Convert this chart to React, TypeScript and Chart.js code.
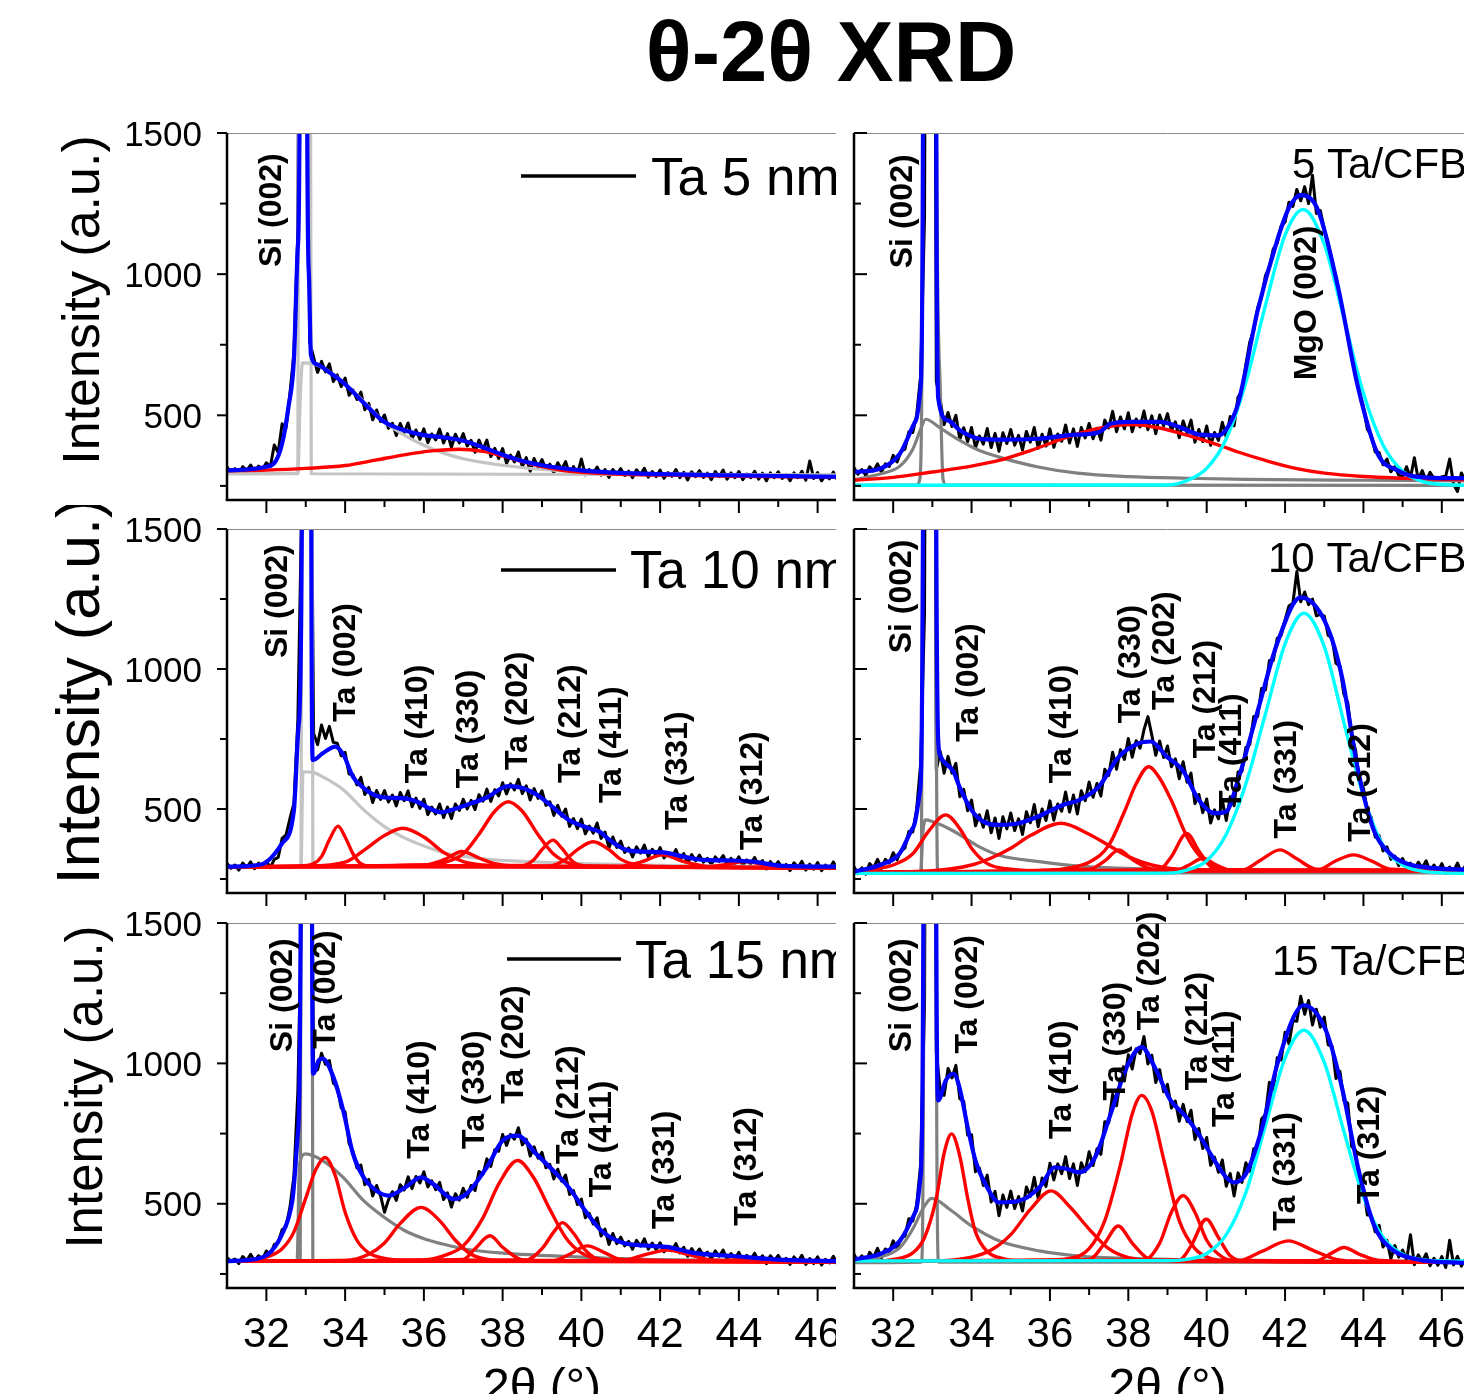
import React, { useEffect, useRef } from "react";
import { Chart, registerables } from "chart.js";

Chart.register(...registerables);

type Pt = [number, number];
type PeakLabel = [string, number, number];

const FONT = '"Liberation Sans", Arial, Helvetica, sans-serif';

// ---------- scan grid (2θ, degrees) ----------
const TWO_THETA: number[] = [
  31.0, 31.1, 31.2, 31.3, 31.4, 31.5, 31.6, 31.7, 31.8, 31.9,
  32.0, 32.1, 32.2, 32.3, 32.4, 32.5, 32.6, 32.7, 32.8, 32.9,
  33.0, 33.1, 33.2, 33.3, 33.4, 33.5, 33.6, 33.7, 33.8, 33.9,
  34.0, 34.1, 34.2, 34.3, 34.4, 34.5, 34.6, 34.7, 34.8, 34.9,
  35.0, 35.1, 35.2, 35.3, 35.4, 35.5, 35.6, 35.7, 35.8, 35.9,
  36.0, 36.1, 36.2, 36.3, 36.4, 36.5, 36.6, 36.7, 36.8, 36.9,
  37.0, 37.1, 37.2, 37.3, 37.4, 37.5, 37.6, 37.7, 37.8, 37.9,
  38.0, 38.1, 38.2, 38.3, 38.4, 38.5, 38.6, 38.7, 38.8, 38.9,
  39.0, 39.1, 39.2, 39.3, 39.4, 39.5, 39.6, 39.7, 39.8, 39.9,
  40.0, 40.1, 40.2, 40.3, 40.4, 40.5, 40.6, 40.7, 40.8, 40.9,
  41.0, 41.1, 41.2, 41.3, 41.4, 41.5, 41.6, 41.7, 41.8, 41.9,
  42.0, 42.1, 42.2, 42.3, 42.4, 42.5, 42.6, 42.7, 42.8, 42.9,
  43.0, 43.1, 43.2, 43.3, 43.4, 43.5, 43.6, 43.7, 43.8, 43.9,
  44.0, 44.1, 44.2, 44.3, 44.4, 44.5, 44.6, 44.7, 44.8, 44.9,
  45.0, 45.1, 45.2, 45.3, 45.4, 45.5, 45.6, 45.7, 45.8, 45.9,
  46.0, 46.1, 46.2, 46.3, 46.4, 46.5, 46.6, 46.7, 46.8, 46.9,
  47.0,
];

// ---------- measured intensities (black) ----------
const TA5_DATA: number[] = [
  317, 299, 311, 294, 318, 304, 324, 301, 320, 308,
  332, 318, 395, 368, 470, 455, 580, 720, 1150, 5000,
  3000, 760, 705, 652, 691, 654, 682, 620, 643, 602,
  632, 571, 590, 556, 582, 520, 542, 484, 519, 478,
  501, 454, 472, 428, 471, 439, 473, 417, 448, 415,
  452, 403, 434, 413, 451, 402, 435, 387, 433, 402,
  435, 391, 411, 369, 412, 379, 412, 354, 383, 347,
  382, 330, 359, 335, 370, 318, 350, 302, 347, 316,
  343, 309, 327, 296, 332, 308, 336, 292, 318, 292,
  345, 289, 308, 294, 317, 288, 308, 280, 308, 290,
  311, 287, 302, 279, 307, 290, 312, 281, 301, 283,
  306, 277, 297, 284, 308, 279, 298, 271, 300, 283,
  304, 280, 295, 272, 301, 283, 306, 274, 296, 279,
  301, 272, 292, 279, 302, 274, 295, 268, 296, 279,
  300, 276, 291, 268, 296, 279, 302, 270, 338, 276,
  297, 268, 288, 275, 299, 271, 292, 265, 293, 276,
  284,
];

const CFB5_DATA: number[] = [
  314, 291, 308, 287, 318, 303, 328, 299, 328, 319,
  358, 335, 373, 380, 442, 439, 502, 640, 1200, 5000,
  5000, 620, 554, 467, 510, 460, 500, 415, 456, 407,
  457, 385, 427, 398, 453, 386, 436, 373, 438, 400,
  450, 394, 429, 377, 443, 405, 457, 383, 433, 391,
  452, 387, 434, 408, 466, 402, 452, 390, 457, 420,
  471, 417, 454, 412, 483, 455, 514, 442, 494, 452,
  509, 442, 487, 459, 515, 449, 498, 435, 501, 463,
  506, 446, 477, 421, 480, 438, 483, 405, 450, 407,
  462, 394, 439, 411, 475, 422, 496, 463, 565, 586,
  680, 760, 800, 880, 920, 995, 1025, 1090, 1110, 1170,
  1185, 1255, 1240, 1300, 1260, 1310, 1250, 1350, 1215, 1225,
  1160, 1110, 1045, 985, 920, 850, 780, 710, 640, 580,
  530, 450, 430, 370, 368, 325, 345, 300, 318, 288,
  282, 318, 278, 350, 272, 304, 268, 298, 276, 276,
  282, 284, 345, 256, 230, 296, 270, 274, 278, 281,
  274,
];

const TA10_DATA: number[] = [
  306, 288, 300, 282, 307, 291, 311, 287, 307, 295,
  314, 290, 320, 327, 395, 408, 467, 520, 820, 1600,
  5000, 2500, 770, 730, 800, 752, 795, 738, 735, 690,
  702, 625, 623, 586, 613, 552, 577, 523, 566, 534,
  566, 525, 550, 511, 559, 530, 565, 508, 539, 502,
  535, 480, 507, 482, 518, 469, 507, 466, 518, 495,
  535, 500, 531, 498, 551, 528, 571, 527, 569, 547,
  594, 554, 590, 568, 606, 555, 583, 532, 573, 538,
  565, 513, 526, 477, 513, 474, 500, 438, 466, 430,
  464, 411, 439, 414, 450, 395, 418, 361, 400, 363,
  385, 345, 361, 329, 365, 342, 371, 329, 356, 332,
  362, 325, 345, 328, 355, 319, 341, 305, 337, 315,
  335, 310, 324, 302, 329, 313, 334, 303, 324, 305,
  329, 299, 318, 304, 327, 298, 316, 286, 312, 293,
  312, 288, 302, 280, 308, 291, 313, 282, 303, 285,
  309, 280, 300, 287, 311, 283, 304, 277, 305, 288,
  292,
];

const CFB10_DATA: number[] = [
  294, 269, 290, 267, 305, 290, 320, 288, 320, 307,
  344, 319, 351, 361, 420, 418, 501, 660, 1200, 5000,
  5000, 640, 706, 628, 688, 628, 663, 544, 570, 494,
  532, 440, 479, 435, 494, 415, 468, 395, 472, 429,
  486, 423, 465, 409, 490, 451, 516, 437, 500, 459,
  529, 460, 518, 492, 561, 489, 550, 482, 565, 530,
  596, 542, 591, 546, 642, 620, 703, 642, 712, 677,
  752, 685, 744, 717, 783, 830, 764, 692, 743, 684,
  725, 651, 679, 608, 669, 596, 628, 519, 552, 487,
  536, 450, 497, 465, 531, 459, 544, 512, 632, 634,
  720, 730, 830, 830, 930, 925, 1030, 1030, 1110, 1120,
  1175, 1225, 1235, 1348, 1240, 1275, 1230, 1250, 1190, 1195,
  1190, 1120, 1110, 1020, 1010, 910, 880, 760, 710, 595,
  575, 490, 470, 400, 405, 350, 365, 320, 332, 298,
  323, 291, 307, 278, 310, 289, 315, 276, 300, 277,
  305, 270, 293, 278, 307, 272, 297, 263, 298, 277,
  282,
];

const TA15_DATA: number[] = [
  308, 296, 303, 287, 312, 297, 320, 296, 315, 302,
  332, 315, 355, 362, 408, 418, 489, 600, 900, 1600,
  5000, 2500, 985, 977, 1036, 997, 1010, 930, 917, 842,
  827, 715, 686, 628, 638, 568, 587, 528, 565, 528,
  470, 514, 543, 512, 568, 549, 596, 554, 597, 574,
  614, 560, 582, 550, 576, 515, 539, 488, 536, 513,
  555, 523, 565, 547, 615, 605, 660, 633, 692, 687,
  747, 708, 747, 730, 771, 710, 730, 670, 703, 662,
  683, 628, 640, 588, 623, 580, 602, 533, 547, 497,
  517, 450, 466, 428, 450, 385, 410, 355, 394, 358,
  381, 350, 366, 338, 370, 349, 375, 338, 360, 336,
  361, 329, 348, 333, 358, 325, 345, 313, 340, 320,
  339, 314, 328, 304, 332, 313, 335, 302, 323, 304,
  327, 297, 316, 302, 324, 295, 315, 287, 315, 297,
  316, 292, 306, 284, 311, 294, 316, 284, 305, 287,
  311, 282, 302, 289, 313, 285, 305, 278, 307, 290,
  294,
];

const CFB15_DATA: number[] = [
  320, 294, 315, 291, 327, 310, 341, 307, 339, 327,
  368, 340, 378, 385, 447, 439, 497, 640, 1200, 5000,
  5000, 1040, 906, 886, 982, 948, 993, 874, 865, 745,
  746, 614, 627, 565, 602, 506, 544, 457, 531, 487,
  545, 483, 526, 474, 560, 526, 594, 519, 592, 562,
  644, 585, 642, 607, 668, 590, 642, 565, 646, 614,
  685, 636, 696, 676, 792, 788, 890, 849, 945, 937,
  1031, 980, 1052, 1035, 1096, 998, 1029, 932, 978, 899,
  925, 841, 866, 794, 854, 793, 833, 729, 768, 697,
  736, 637, 666, 612, 656, 562, 608, 528, 610, 576,
  646, 616, 696, 681, 802, 818, 933, 904, 1020, 1012,
  1111, 1070, 1152, 1150, 1239, 1175, 1224, 1137, 1193, 1129,
  1165, 1066, 1061, 946, 972, 868, 858, 704, 690, 572,
  557, 460, 459, 400, 423, 346, 370, 304, 351, 310,
  335, 300, 390, 283, 318, 294, 322, 279, 306, 281,
  312, 273, 370, 282, 313, 278, 302, 266, 303, 283,
  290,
];

// ---------- fitted curves: Ta 5 nm ----------
const TA5_ENVELOPE: Pt[] = [[31,305],[31.5,308],[32,318],[32.2,330],[32.4,400],[32.56,529],[32.7,700],[32.8,1100],[32.85,1800],[32.94,30000],[33.03,1800],[33.08,1000],[33.13,715],[33.3,680],[33.5,662],[34,610],[34.5,540],[35,476],[35.5,447],[36,430],[36.5,422],[37,410],[37.5,387],[38,360],[38.5,338],[39,323],[40,305],[41,296],[42,292],[43,289],[44,287],[45,285],[46,283],[47,282]];
const TA5_TA: Pt[] = [[31,303],[32,306],[33,312],[34,322],[34.8,342],[35.5,360],[36.2,374],[36.9,380],[37.5,372],[38,356],[38.5,336],[39,318],[39.5,305],[40,298],[41,291],[42,288],[44,284],[47,280]];
const TA5_BROAD: Pt[] = [[31,293],[32.8,295],[32.86,560],[32.92,686],[33.2,682],[33.5,664],[34,612],[34.5,545],[35,476],[35.5,430],[36,394],[36.5,366],[37,346],[37.5,333],[38,323],[39,308],[40,300],[42,293],[44,290],[47,288]];
const TA5_SI: Pt[] = [[31,293],[32.8,293],[32.83,2500],[32.97,30000],[33.11,2500],[33.14,293],[47,288]];

// ---------- fitted curves: 5 Ta/CFB ----------
const CFB5_ENVELOPE: Pt[] = [[31,299],[31.66,311],[32.17,364],[32.58,482],[32.7,600],[32.76,1500],[32.93,30000],[33.1,1500],[33.15,560],[33.4,482],[33.7,447],[34.2,417],[34.7,414],[35.7,417],[36.5,430],[37.25,440],[37.55,470],[38,477],[38.8,477],[39.3,459],[39.8,432],[40.3,429],[40.5,450],[40.8,541],[41.3,870],[41.8,1120],[42.1,1235],[42.4,1280],[42.84,1227],[43.35,955],[43.86,600],[44.36,364],[44.87,305],[45.4,282],[46.5,277],[47,276]];
const CFB5_TA: Pt[] = [[31,270],[32,280],[33,299],[34,320],[34.7,340],[35.5,375],[36.5,425],[37.3,455],[38.06,467],[38.8,455],[39.6,425],[40.4,390],[40.8,370],[41.5,340],[42.3,311],[43,295],[44,283],[45,277],[46,273],[47,271]];
const CFB5_BROAD: Pt[] = [[31,272],[31.66,292],[32.17,320],[32.5,380],[32.7,450],[32.83,486],[33.2,455],[33.7,411],[34.2,375],[34.7,352],[35.7,317],[36.7,295],[38,283],[39.5,277],[41,273],[44,270],[47,268]];
const CFB5_SI: Pt[] = [[31,252],[32.6,253],[32.68,275],[32.73,600],[32.78,2500],[32.93,30000],[33.08,2500],[33.2,600],[33.27,275],[33.35,253],[47,252]];
const CFB5_MGO: Pt[] = [[31,252],[39,253],[39.5,269],[40,312],[40.5,417],[41,617],[41.5,890],[42,1138],[42.46,1229],[43,1106],[43.5,845],[44,578],[44.5,395],[45,302],[45.5,266],[46,255],[47,252]];

// ---------- fitted curves: Ta 10 nm ----------
const TA10_ENVELOPE: Pt[] = [[31,294],[31.87,302],[32.4,377],[32.7,496],[32.82,800],[32.9,1500],[33.03,30000],[33.14,1500],[33.18,675],[33.43,699],[33.75,723],[33.96,693],[34.2,615],[34.48,574],[34.74,550],[35,541],[35.52,538],[35.83,526],[36.14,502],[36.45,488],[36.76,499],[37.08,514],[37.6,541],[38.14,582],[38.53,574],[38.9,548],[39.16,520],[39.68,461],[40.2,431],[40.46,419],[40.72,389],[41.14,354],[41.55,348],[42.07,345],[42.6,330],[43.1,318],[43.84,316],[44.36,312],[45.1,297],[46.44,294],[47,293]];
const TA10_P002: Pt[] = [[31,294],[32.8,296],[33.2,305],[33.4,330],[33.6,390],[33.82,439],[34,400],[34.2,340],[34.4,305],[34.7,296],[47,290]];
const TA10_P410: Pt[] = [[31,294],[33,296],[34,310],[34.5,355],[35,405],[35.46,431],[36,400],[36.5,345],[37,312],[37.5,300],[38.5,295],[47,290]];
const TA10_P330: Pt[] = [[31,294],[36,300],[36.5,318],[36.97,348],[37.4,325],[37.8,305],[38.3,297],[47,290]];
const TA10_P202: Pt[] = [[31,294],[36,300],[36.5,308],[37,340],[37.4,410],[37.8,492],[38.14,526],[38.5,492],[38.9,408],[39.3,338],[39.7,306],[40.2,296],[47,290]];
const TA10_P212: Pt[] = [[31,294],[38.5,298],[38.8,320],[39,355],[39.28,389],[39.5,360],[39.8,310],[40.1,297],[47,290]];
const TA10_P411: Pt[] = [[31,294],[39.2,297],[39.6,320],[39.9,355],[40.3,383],[40.7,355],[41,320],[41.4,300],[42,295],[47,290]];
const TA10_P331: Pt[] = [[31,294],[41,296],[41.5,310],[42.07,336],[42.6,312],[43.1,297],[43.6,293],[47,290]];
const TA10_P312: Pt[] = [[31,294],[43,292],[43.6,300],[44.15,312],[44.7,300],[45.3,291],[47,290]];
const TA10_BROAD: Pt[] = [[31,294],[32.88,296],[32.93,633],[33.2,630],[33.43,615],[33.96,568],[34.48,496],[35,437],[35.52,396],[36.04,366],[36.56,342],[37.08,330],[37.6,320],[38.12,316],[39.16,309],[40.2,304],[42,299],[44,296],[47,295]];
const TA10_SI: Pt[] = [[31,294],[32.88,295],[32.91,2500],[33.03,30000],[33.15,2500],[33.18,295],[47,292]];

// ---------- fitted curves: 10 Ta/CFB ----------
const CFB10_ENVELOPE: Pt[] = [[31,276],[31.66,300],[32.17,342],[32.52,437],[32.68,560],[32.76,1500],[32.93,30000],[33.1,1500],[33.16,720],[33.2,690],[33.54,633],[33.69,580],[34,496],[34.3,455],[34.7,443],[35.2,449],[35.7,473],[36.33,514],[36.74,532],[37.25,580],[37.76,687],[38.27,735],[38.57,741],[38.98,687],[39.38,640],[39.8,532],[40.2,485],[40.5,491],[40.8,604],[41.31,854],[41.8,1092],[42.4,1256],[43.04,1163],[43.45,973],[43.86,640],[44.26,426],[44.67,342],[45.08,306],[45.9,288],[47,282]];
const CFB10_P002: Pt[] = [[31,276],[31.5,285],[32,300],[32.5,340],[32.9,420],[33.34,479],[33.7,430],[34,360],[34.4,305],[35,285],[36,278],[47,280]];
const CFB10_P410: Pt[] = [[31,274],[33,280],[34,300],[34.5,325],[35,360],[35.5,405],[36.28,449],[37,410],[37.5,370],[38,330],[38.6,300],[39.5,283],[47,280]];
const CFB10_P330: Pt[] = [[31,274],[37,285],[37.4,315],[37.76,354],[38.1,320],[38.5,290],[39,280],[47,280]];
const CFB10_P202: Pt[] = [[31,274],[36,282],[36.5,290],[37,310],[37.5,370],[37.9,490],[38.2,590],[38.52,651],[38.8,610],[39.1,530],[39.5,400],[39.9,320],[40.4,285],[41,278],[47,280]];
const CFB10_P212: Pt[] = [[31,274],[38.8,285],[39.1,330],[39.49,413],[39.8,350],[40.1,295],[40.5,280],[47,280]];
const CFB10_P411: Pt[] = [[31,274],[39.2,280],[39.55,300],[39.9,324],[40.25,300],[40.6,282],[47,280]];
const CFB10_P331: Pt[] = [[31,274],[40.9,282],[41.4,320],[41.87,354],[42.3,322],[42.8,285],[47,280]];
const CFB10_P312: Pt[] = [[31,274],[42.8,280],[43.3,315],[43.75,336],[44.2,315],[44.7,285],[47,280]];
const CFB10_BROAD: Pt[] = [[31,272],[32.7,276],[32.76,420],[32.83,461],[33,455],[33.49,425],[34.2,365],[34.7,335],[35.73,312],[36.74,296],[38,288],[40,284],[47,280]];
const CFB10_SI: Pt[] = [[31,270],[32.72,272],[32.78,2500],[32.93,30000],[33.08,2500],[33.14,272],[47,272]];
const CFB10_MGO: Pt[] = [[31,270],[39,271],[39.5,282],[40,315],[40.5,410],[41,590],[41.5,840],[42,1090],[42.48,1199],[43,1080],[43.5,810],[44,545],[44.5,370],[45,300],[45.5,278],[46,272],[47,270]];

// ---------- fitted curves: Ta 15 nm ----------
const TA15_ENVELOPE: Pt[] = [[31,296],[31.87,308],[32.4,392],[32.66,511],[32.8,750],[32.87,1500],[33.02,30000],[33.16,1500],[33.19,963],[33.33,1011],[33.43,1017],[33.7,952],[33.95,833],[34.2,678],[34.47,594],[34.79,547],[35.1,529],[35.52,558],[35.93,594],[36.24,570],[36.76,517],[37.08,535],[37.6,630],[38,725],[38.38,743],[38.85,678],[39.37,606],[39.68,558],[40.1,475],[40.51,404],[41.03,362],[41.76,350],[42.28,344],[42.8,326],[43.84,314],[44.88,302],[46.4,296],[47,295]];
const TA15_P002: Pt[] = [[31,296],[31.5,298],[32,310],[32.4,340],[32.7,400],[33,520],[33.25,620],[33.49,665],[33.75,600],[34,470],[34.3,370],[34.6,325],[35,305],[35.5,298],[36.5,295],[47,293]];
const TA15_P410: Pt[] = [[31,296],[34,298],[34.6,320],[35,360],[35.4,430],[35.93,487],[36.4,440],[36.8,370],[37.2,320],[37.7,300],[38.5,295],[47,293]];
const TA15_P330: Pt[] = [[31,296],[37,302],[37.3,340],[37.68,386],[38,345],[38.4,305],[38.8,296],[47,293]];
const TA15_P202: Pt[] = [[31,296],[36,300],[36.6,320],[37,350],[37.5,450],[37.9,570],[38.38,654],[38.8,590],[39.2,480],[39.6,380],[40,325],[40.5,302],[41.2,296],[47,293]];
const TA15_P212: Pt[] = [[31,296],[38.6,300],[39,340],[39.3,400],[39.52,433],[39.8,395],[40.1,335],[40.5,300],[47,293]];
const TA15_P411: Pt[] = [[31,296],[39.3,298],[39.7,320],[40.15,350],[40.6,325],[41,302],[47,293]];
const TA15_P331: Pt[] = [[31,296],[41,297],[41.6,318],[42.18,335],[42.8,316],[43.3,300],[47,293]];
const TA15_P312: Pt[] = [[31,296],[43.5,295],[44.2,305],[44.9,295],[47,293]];
const TA15_BROAD: Pt[] = [[31,295],[32.78,297],[32.84,640],[33,678],[33.43,654],[33.95,594],[34.47,511],[35,451],[35.52,404],[36.04,374],[36.56,354],[37.08,338],[38.12,323],[39.16,315],[40.7,306],[43,299],[47,296]];
const TA15_SI: Pt[] = [[31,295],[32.86,296],[32.89,2500],[33.02,30000],[33.15,2500],[33.18,296],[47,295]];

// ---------- fitted curves: 15 Ta/CFB ----------
const CFB15_ENVELOPE: Pt[] = [[31,302],[31.66,321],[32.17,368],[32.58,475],[32.7,600],[32.77,1500],[32.94,30000],[33.1,1500],[33.15,868],[33.34,939],[33.54,963],[33.69,915],[33.9,773],[34.1,654],[34.4,558],[34.7,505],[35.2,510],[35.73,558],[36.13,630],[36.44,624],[36.74,612],[37.15,665],[37.55,820],[37.96,987],[38.34,1058],[38.67,987],[39.08,868],[39.44,815],[39.79,749],[40.2,654],[40.5,594],[40.7,576],[41,606],[41.42,773],[41.83,1011],[42.48,1207],[43.04,1118],[43.45,915],[43.86,630],[44.26,427],[44.67,344],[45.38,302],[46.5,290],[47,289]];
const CFB15_P002: Pt[] = [[31,295],[31.5,295],[32,302],[32.5,325],[32.8,380],[33.1,520],[33.3,680],[33.49,749],[33.7,670],[33.9,520],[34.1,400],[34.4,330],[34.8,305],[35.3,296],[47,292]];
const CFB15_P410: Pt[] = [[31,295],[33,296],[34,310],[34.5,335],[35,390],[35.5,480],[36.03,546],[36.5,490],[37,410],[37.5,340],[38,308],[38.8,296],[47,292]];
const CFB15_P330: Pt[] = [[31,295],[37,302],[37.4,360],[37.74,421],[38.1,360],[38.5,305],[38.9,296],[47,292]];
const CFB15_P202: Pt[] = [[31,295],[36,300],[36.5,305],[37,340],[37.4,440],[37.8,640],[38.1,820],[38.34,886],[38.6,830],[38.9,660],[39.3,440],[39.7,340],[40.1,305],[40.6,297],[47,292]];
const CFB15_P212: Pt[] = [[31,295],[38.4,300],[38.8,360],[39.1,470],[39.4,529],[39.7,470],[40,370],[40.4,310],[40.8,297],[47,292]];
const CFB15_P411: Pt[] = [[31,295],[39.3,300],[39.6,350],[39.99,445],[40.3,380],[40.6,315],[41,297],[47,292]];
const CFB15_P331: Pt[] = [[31,295],[40.8,297],[41.4,330],[42.08,368],[42.7,335],[43.3,302],[43.8,296],[47,292]];
const CFB15_P312: Pt[] = [[31,295],[42.8,297],[43.2,325],[43.5,344],[43.9,320],[44.4,298],[47,292]];
const CFB15_BROAD: Pt[] = [[31,294],[31.66,310],[32.17,344],[32.5,410],[32.75,480],[32.98,519],[33.49,475],[34,421],[34.7,368],[35.73,332],[36.74,314],[38.27,305],[40,300],[43,296],[47,294]];
const CFB15_SI: Pt[] = [[31,290],[32.72,292],[32.8,2500],[32.94,30000],[33.08,2500],[33.16,292],[47,292]];
const CFB15_MGO: Pt[] = [[31,296],[39,297],[39.5,302],[40,323],[40.5,390],[41,540],[41.5,779],[42,1019],[42.48,1118],[43,1004],[43.5,758],[44,524],[44.5,381],[45,320],[45.5,301],[46,297],[47,295]];

// ---------- peak annotations [text, 2θ, intensity at text start] ----------
const TA5_PEAKS: PeakLabel[] = [["Si (002)", 32.14, 1025]];
const CFB5_PEAKS: PeakLabel[] = [["Si (002)", 32.25, 1021], ["MgO (002)", 42.56, 624]];
const TA10_PEAKS: PeakLabel[] = [
  ["Si (002)", 32.31, 1039], ["Ta (002)", 34.03, 812], ["Ta (410)", 35.85, 592], ["Ta (330)", 37.15, 574],
  ["Ta (202)", 38.4, 639], ["Ta (212)", 39.75, 593], ["Ta (411)", 40.77, 521], ["Ta (331)", 42.45, 425], ["Ta (312)", 44.36, 354],
];
const CFB10_PEAKS: PeakLabel[] = [
  ["Si (002)", 32.22, 1056], ["Ta (002)", 33.95, 740], ["Ta (410)", 36.3, 592], ["Ta (330)", 38.08, 806],
  ["Ta (202)", 38.95, 854], ["Ta (212)", 39.99, 681], ["Ta (411)", 40.65, 496], ["Ta (331)", 42.05, 395], ["Ta (312)", 43.93, 383],
];
const TA15_PEAKS: PeakLabel[] = [
  ["Si (002)", 32.42, 1040], ["Ta (002)", 33.51, 1052], ["Ta (410)", 35.9, 660], ["Ta (330)", 37.3, 695],
  ["Ta (202)", 38.29, 856], ["Ta (212)", 39.68, 642], ["Ta (411)", 40.53, 523], ["Ta (331)", 42.14, 410], ["Ta (312)", 44.22, 422],
];
const CFB15_PEAKS: PeakLabel[] = [
  ["Si (002)", 32.22, 1040], ["Ta (002)", 33.92, 1035], ["Ta (410)", 36.3, 731], ["Ta (330)", 37.68, 868],
  ["Ta (202)", 38.57, 1118], ["Ta (212)", 39.79, 904], ["Ta (411)", 40.47, 773], ["Ta (331)", 42.03, 404], ["Ta (312)", 44.18, 499],
];

// ---------- axes ----------
const X_MAJOR: number[] = [32, 34, 36, 38, 40, 42, 44, 46];
const X_MINOR: number[] = [33, 35, 37, 39, 41, 43, 45, 47];
const Y_MAJOR: number[] = [500, 1000, 1500];
const Y_MINOR: number[] = [250, 750, 1250];
const X_MIN = 31, X_MAX = 47, Y_MIN = 200, Y_MAX = 1500;

const TITLE = "θ-2θ XRD";
const Y_TITLE = "Intensity (a.u.)";
const X_TITLE = "2θ (°)";

// ---------- colours ----------
const C_DATA = "#000000";
const C_ENV = "#0000ff";
const C_TA = "#ff0000";
const C_MGO = "#00ffff";
const C_LIGHTGRAY = "#c4c4c4";
const C_GRAY = "#808080";

// ---------- layout ----------
const ROWS = [
  { top: 100, height: 420, padTop: 33, padBottom: 20, yt: { dx: -142, dy: 167, size: 52 }, legend: { x1: 294, x2: 409, y: 43, tx: 424, ty: 62 }, sample: { dx: 438, dy: 45 } },
  { top: 505, height: 410, padTop: 24, padBottom: 22, yt: { dx: -144.5, dy: 162, size: 61 }, legend: { x1: 274, x2: 389, y: 41, tx: 403, ty: 59 }, sample: { dx: 414, dy: 43 } },
  { top: 900, height: 494, padTop: 23, padBottom: 106, yt: { dx: -139.5, dy: 164, size: 51 }, legend: { x1: 280, x2: 394, y: 36, tx: 408, ty: 55 }, sample: { dx: 418, dy: 52 } },
];
const SIDES = {
  left: { divLeft: 0, divWidth: 836, canvasWidth: 900, padLeft: 227, padRight: 43 },
  right: { divLeft: 836, divWidth: 628, canvasWidth: 680, padLeft: 18, padRight: 35 },
};

interface PanelSpec {
  id: string;
  side: "left" | "right";
  row: number;
  data: number[];
  envelope: Pt[];
  ta: Pt[][];
  gray: Pt[][];
  grayColor: string;
  mgoCurve?: Pt[];
  peaks: PeakLabel[];
  label: string;
}

const PANELS: PanelSpec[] = [
  { id: "ta5", side: "left", row: 0, data: TA5_DATA, envelope: TA5_ENVELOPE, ta: [TA5_TA], gray: [TA5_BROAD, TA5_SI], grayColor: C_LIGHTGRAY, peaks: TA5_PEAKS, label: "Ta 5 nm" },
  { id: "ta10", side: "left", row: 1, data: TA10_DATA, envelope: TA10_ENVELOPE, ta: [TA10_P002, TA10_P410, TA10_P330, TA10_P202, TA10_P212, TA10_P411, TA10_P331, TA10_P312], gray: [TA10_BROAD, TA10_SI], grayColor: C_LIGHTGRAY, peaks: TA10_PEAKS, label: "Ta 10 nm" },
  { id: "ta15", side: "left", row: 2, data: TA15_DATA, envelope: TA15_ENVELOPE, ta: [TA15_P002, TA15_P410, TA15_P330, TA15_P202, TA15_P212, TA15_P411, TA15_P331, TA15_P312], gray: [TA15_BROAD, TA15_SI], grayColor: C_GRAY, peaks: TA15_PEAKS, label: "Ta 15 nm" },
  { id: "cfb5", side: "right", row: 0, data: CFB5_DATA, envelope: CFB5_ENVELOPE, ta: [CFB5_TA], gray: [CFB5_BROAD, CFB5_SI], grayColor: C_GRAY, mgoCurve: CFB5_MGO, peaks: CFB5_PEAKS, label: "5 Ta/CFB" },
  { id: "cfb10", side: "right", row: 1, data: CFB10_DATA, envelope: CFB10_ENVELOPE, ta: [CFB10_P002, CFB10_P410, CFB10_P330, CFB10_P202, CFB10_P212, CFB10_P411, CFB10_P331, CFB10_P312], gray: [CFB10_BROAD, CFB10_SI], grayColor: C_GRAY, mgoCurve: CFB10_MGO, peaks: CFB10_PEAKS, label: "10 Ta/CFB" },
  { id: "cfb15", side: "right", row: 2, data: CFB15_DATA, envelope: CFB15_ENVELOPE, ta: [CFB15_P002, CFB15_P410, CFB15_P330, CFB15_P202, CFB15_P212, CFB15_P411, CFB15_P331, CFB15_P312], gray: [CFB15_BROAD, CFB15_SI], grayColor: C_GRAY, mgoCurve: CFB15_MGO, peaks: CFB15_PEAKS, label: "15 Ta/CFB" },
];

function fitSet(pts: Pt[], color: string, width: number) {
  return {
    type: "line" as const,
    data: pts.map(([x, y]) => ({ x, y })),
    borderColor: color,
    borderWidth: width,
    pointRadius: 0,
    fill: false,
    cubicInterpolationMode: "monotone" as const,
    borderJoinStyle: "round" as const,
  };
}

function buildDatasets(p: PanelSpec) {
  const sets: any[] = [];
  sets.push(fitSet(p.envelope, C_ENV, 4.2));
  if (p.mgoCurve) sets.push(fitSet(p.mgoCurve, C_MGO, 3.4));
  p.ta.forEach((c) => sets.push(fitSet(c, C_TA, 3.4)));
  p.gray.forEach((c) => sets.push(fitSet(c, p.grayColor, 3.2)));
  sets.push({
    type: "line",
    data: TWO_THETA.map((x, i) => ({ x, y: p.data[i] })),
    borderColor: C_DATA,
    borderWidth: 3,
    pointRadius: 0,
    fill: false,
    tension: 0,
    borderJoinStyle: "round",
  });
  return sets;
}

function line(ctx: CanvasRenderingContext2D, x1: number, y1: number, x2: number, y2: number) {
  ctx.beginPath();
  ctx.moveTo(x1, y1);
  ctx.lineTo(x2, y2);
  ctx.stroke();
}

function framePlugin(p: PanelSpec) {
  const rowG = ROWS[p.row];
  const isLeft = p.side === "left";
  const isBottom = p.row === 2;
  return {
    id: "xrdFrame",
    afterDatasetsDraw(chart: any) {
      const ctx: CanvasRenderingContext2D = chart.ctx;
      const { left, right, top, bottom } = chart.chartArea;
      const xs = chart.scales.x;
      const ys = chart.scales.y;
      ctx.save();
      ctx.strokeStyle = "#8a8a8a";
      ctx.lineWidth = 1;
      line(ctx, left, top + 0.5, right, top + 0.5);

      ctx.strokeStyle = "#000";
      ctx.lineWidth = 2;
      const dir = isLeft ? -1 : 1;
      Y_MAJOR.forEach((v) => {
        const py = ys.getPixelForValue(v);
        line(ctx, left, py, left + dir * (isLeft ? 10 : 13), py);
      });
      Y_MINOR.forEach((v) => {
        const py = ys.getPixelForValue(v);
        line(ctx, left, py, left + dir * 7, py);
      });
      X_MAJOR.forEach((v) => {
        const px = xs.getPixelForValue(v);
        line(ctx, px, bottom, px, bottom + 13);
      });
      X_MINOR.forEach((v) => {
        const px = xs.getPixelForValue(v);
        line(ctx, px, bottom, px, bottom + 7);
      });

      ctx.lineWidth = 2.5;
      line(ctx, left, top, left, bottom + 1);
      line(ctx, left - 1.2, bottom, right, bottom);

      ctx.fillStyle = "#000";
      if (isLeft) {
        ctx.font = `35px ${FONT}`;
        ctx.textAlign = "right";
        ctx.textBaseline = "alphabetic";
        Y_MAJOR.forEach((v) => {
          const py = ys.getPixelForValue(v);
          ctx.fillText(String(v), left - 25, py + 12.5);
        });
        ctx.save();
        ctx.translate(left + rowG.yt.dx, top + rowG.yt.dy);
        ctx.rotate(-Math.PI / 2);
        ctx.font = `${rowG.yt.size}px ${FONT}`;
        ctx.textAlign = "center";
        ctx.textBaseline = "middle";
        ctx.fillText(Y_TITLE, 0, 0);
        ctx.restore();
        ctx.lineWidth = 3.5;
        line(ctx, left + rowG.legend.x1, top + rowG.legend.y, left + rowG.legend.x2, top + rowG.legend.y);
        ctx.font = `53px ${FONT}`;
        ctx.textAlign = "left";
        ctx.textBaseline = "alphabetic";
        ctx.fillText(p.label, left + rowG.legend.tx, top + rowG.legend.ty);
      } else {
        ctx.font = `42px ${FONT}`;
        ctx.textAlign = "left";
        ctx.textBaseline = "alphabetic";
        ctx.fillText(p.label, left + rowG.sample.dx, top + rowG.sample.dy);
      }

      if (isBottom) {
        ctx.font = `42px ${FONT}`;
        ctx.textAlign = "center";
        ctx.textBaseline = "alphabetic";
        X_MAJOR.forEach((v) => {
          const px = xs.getPixelForValue(v);
          ctx.fillText(String(v), px, bottom + 59);
        });
        ctx.font = `48px ${FONT}`;
        ctx.fillText(X_TITLE, (left + right) / 2, bottom + 114);
      }

      ctx.font = `bold 32px ${FONT}`;
      ctx.textAlign = "left";
      ctx.textBaseline = "middle";
      p.peaks.forEach(([text, xv, yv]) => {
        const px = xs.getPixelForValue(xv);
        const py = ys.getPixelForValue(yv);
        ctx.save();
        ctx.translate(px, py);
        ctx.rotate(-Math.PI / 2);
        ctx.fillText(text, 0, 0);
        ctx.restore();
      });
      ctx.restore();
    },
  };
}

function Panel({ spec }: { spec: PanelSpec }) {
  const ref = useRef<HTMLCanvasElement | null>(null);
  const rowG = ROWS[spec.row];
  const sideG = SIDES[spec.side];
  useEffect(() => {
    if (!ref.current) return;
    const chart = new Chart(ref.current, {
      type: "line",
      data: { datasets: buildDatasets(spec) },
      options: {
        responsive: false,
        maintainAspectRatio: false,
        animation: false,
        events: [],
        layout: { padding: { left: sideG.padLeft, right: sideG.padRight, top: rowG.padTop, bottom: rowG.padBottom } },
        scales: {
          x: { type: "linear", min: X_MIN, max: X_MAX, display: false },
          y: { type: "linear", min: Y_MIN, max: Y_MAX, display: false },
        },
        plugins: { legend: { display: false }, tooltip: { enabled: false }, title: { display: false } },
      },
      plugins: [framePlugin(spec)],
    } as any);
    return () => chart.destroy();
  }, []);
  return (
    <div style={{ position: "absolute", left: sideG.divLeft, top: rowG.top, width: sideG.divWidth, height: rowG.height, overflow: "hidden" }}>
      <canvas ref={ref} width={sideG.canvasWidth} height={rowG.height} style={{ display: "block", width: sideG.canvasWidth, height: rowG.height }} />
    </div>
  );
}

export default function App() {
  return (
    <div style={{ position: "absolute", left: 0, top: 0, width: 1464, height: 1394, overflow: "hidden", background: "#fff" }}>
      <div style={{ position: "absolute", left: 531, top: 9, width: 600, textAlign: "center", font: `bold 85px ${FONT}`, lineHeight: "85px", color: "#000", whiteSpace: "nowrap" }}>
        {TITLE}
      </div>
      {PANELS.map((p) => (
        <Panel key={p.id} spec={p} />
      ))}
    </div>
  );
}
